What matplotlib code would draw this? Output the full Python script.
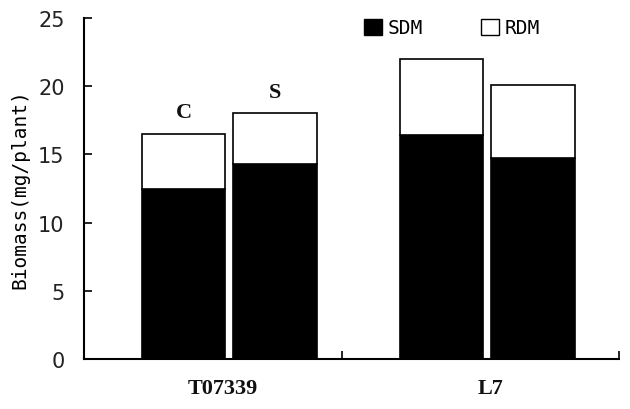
import matplotlib
matplotlib.use("Agg")
import matplotlib.pyplot as plt
import numpy as np
from matplotlib.patches import Patch

# data
groups = ["T07339", "L7"]
treatments = ["C", "S"]
sdm = np.array([[12.5, 14.3], [16.4, 14.7]])
rdm = np.array([[4.0, 3.7], [5.6, 5.4]])
y_ticks = [0, 5, 10, 15, 20, 25]

fig = plt.figure(figsize=(6.3, 4.1), dpi=100)
ax = fig.add_axes([84 / 630, 1 - 360 / 410, (619 - 84) / 630, (360 - 19) / 410])

width = 0.322
gap = 0.031
x = np.arange(len(groups))
offsets = [-(width + gap) / 2, (width + gap) / 2]

for j, off in enumerate(offsets):
    ax.bar(x + off, sdm[:, j], width=width, color="black", edgecolor="black", linewidth=1.2)
    ax.bar(x + off, rdm[:, j], width=width, bottom=sdm[:, j], color="white",
           edgecolor="black", linewidth=1.2)

# C / S labels above first group only
for j, off in enumerate(offsets):
    top = sdm[0, j] + rdm[0, j]
    ax.text(x[0] + off, top + 0.85, treatments[j], ha="center", va="bottom",
            fontsize=16, family="Liberation Serif", fontweight="bold", color="#111111")

ax.set_xlim(-0.564, 1.51)
ax.set_ylim(0, 25)
ax.set_yticks(y_ticks)
ax.set_yticklabels([str(v) for v in y_ticks], fontsize=15, family="DejaVu Sans", color="#222222")
# label positions are slightly off-centre in the original
ax.set_xticks(x + np.array([-0.025, 0.01]))
ax.set_xticklabels(groups, fontsize=16, family="Liberation Serif", fontweight="bold",
                   color="#111111")
ax.tick_params(axis="x", length=0, pad=14)
ax.set_xticks([-0.564, 0.436, 1.51], minor=True)
ax.tick_params(axis="x", which="minor", direction="in", length=6, width=1.2)
ax.tick_params(axis="y", direction="in", length=6, width=1.2, pad=14)

for s in ["top", "right"]:
    ax.spines[s].set_visible(False)
for s in ["left", "bottom"]:
    ax.spines[s].set_linewidth(1.5)

ax.set_ylabel("Biomass(mg/plant)", fontsize=14, family="DejaVu Sans Mono", labelpad=6)

handles = [Patch(facecolor="black", edgecolor="black", label="SDM"),
           Patch(facecolor="white", edgecolor="black", label="RDM")]
ax.legend(handles=handles, loc="upper right", bbox_to_anchor=(0.885, 1.05), ncol=2,
          frameon=False, prop={"family": "DejaVu Sans Mono", "size": 14},
          handlelength=0.9, handleheight=0.9, handletextpad=0.3, columnspacing=3.0)

fig.savefig("out.png", dpi=100)
